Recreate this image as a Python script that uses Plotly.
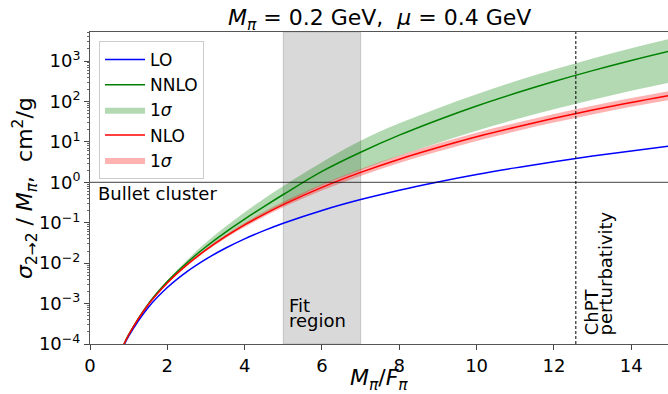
import numpy as np
import plotly.graph_objects as go

# ---- data ----
x_ratio = [0.85, 1.0, 1.5, 2.0, 2.5, 3.0, 3.5, 4.0, 4.5, 5.0, 6.0, 7.0, 8.0, 9.0, 10.0, 11.0, 12.0, 13.0, 14.0, 15.0]

lo = [8.1e-5, 1.56e-4, 7.9e-4, 2.5e-3, 6.1e-3, 0.0126, 0.0234, 0.040, 0.064, 0.0975,
      0.202, 0.375, 0.64, 1.02, 1.56, 2.28, 3.23, 4.46, 6.0, 7.9]

nlo = [8.5e-5, 1.68e-4, 9.2e-4, 3.25e-3, 8.97e-3, 0.0212, 0.0451, 0.0884, 0.162, 0.282,
       0.751, 1.76, 3.74, 7.26, 13.4, 23.1, 38.4, 61.5, 94.9, 142.0]
nlo_hi = [8.6e-5, 1.71e-4, 9.4e-4, 3.38e-3, 9.5e-3, 0.0229, 0.0496, 0.0999, 0.186, 0.330,
          0.901, 2.15, 4.64, 9.08, 16.9, 29.3, 48.8, 78.7, 121.5, 183.0]
nlo_lo = [8.4e-5, 1.65e-4, 9.0e-4, 3.13e-3, 8.46e-3, 0.0196, 0.0410, 0.0782, 0.141, 0.241,
          0.626, 1.44, 3.02, 5.81, 10.6, 18.2, 30.2, 48.0, 74.1, 110.0]

nnlo = [8.6e-5, 1.70e-4, 9.57e-4, 3.5e-3, 0.0101, 0.0255, 0.058, 0.123, 0.251, 0.50,
        1.87, 5.57, 14.7, 35.0, 77.7, 160.0, 313.0, 582.0, 1035.0, 1770.0]
nnlo_hi = [8.7e-5, 1.74e-4, 9.86e-4, 3.78e-3, 0.0117, 0.0324, 0.0794, 0.182, 0.394, 0.813,
           3.16, 10.7, 28.8, 68.4, 151.0, 316.0, 617.0, 1161.0, 2089.0, 3573.0]
nnlo_lo = [8.5e-5, 1.66e-4, 9.19e-4, 3.26e-3, 8.9e-3, 0.0209, 0.0441, 0.0888, 0.162, 0.286,
           0.860, 2.01, 4.56, 9.45, 19.0, 36.0, 64.2, 110.6, 184.2, 293.8]

fit_region = [5.0, 7.0]
chpt_limit = 4 * np.pi
bullet_cluster = 1.0

ytick_vals = [1e-4, 1e-3, 1e-2, 1e-1, 1e0, 1e1, 1e2, 1e3]
ytick_text = ["10<sup>\u22124</sup>", "10<sup>\u22123</sup>", "10<sup>\u22122</sup>", "10<sup>\u22121</sup>",
              "10<sup>0</sup>", "10<sup>1</sup>", "10<sup>2</sup>", "10<sup>3</sup>"]
xtick_vals = [0, 2, 4, 6, 8, 10, 12, 14]

FONT = "DejaVu Sans"

fig = go.Figure()

fig.add_trace(go.Scatter(x=x_ratio, y=lo, mode="lines", name="LO", legendgroup="a",
                         line=dict(color="rgb(0,0,255)", width=1.5, shape="spline")))
fig.add_trace(go.Scatter(x=x_ratio, y=nnlo, mode="lines", name="NNLO", legendgroup="b",
                         line=dict(color="rgb(0,128,0)", width=1.5, shape="spline")))
fig.add_trace(go.Scatter(x=x_ratio, y=nnlo_lo, mode="lines", showlegend=False, legendgroup="c",
                         line=dict(color="rgba(0,128,0,0)", width=0, shape="spline"), hoverinfo="skip"))
fig.add_trace(go.Scatter(x=x_ratio, y=nnlo_hi, mode="lines", name="1<i>σ</i>", legendgroup="c",
                         fill="tonexty", fillcolor="rgba(0,128,0,0.3)",
                         line=dict(color="rgba(0,128,0,0)", width=0, shape="spline")))
fig.add_trace(go.Scatter(x=x_ratio, y=nlo, mode="lines", name="NLO", legendgroup="d",
                         line=dict(color="rgb(255,0,0)", width=1.5, shape="spline")))
fig.add_trace(go.Scatter(x=x_ratio, y=nlo_lo, mode="lines", showlegend=False, legendgroup="e",
                         line=dict(color="rgba(255,0,0,0)", width=0, shape="spline"), hoverinfo="skip"))
fig.add_trace(go.Scatter(x=x_ratio, y=nlo_hi, mode="lines", name="1<i>σ</i>", legendgroup="e",
                         fill="tonexty", fillcolor="rgba(255,0,0,0.3)",
                         line=dict(color="rgba(255,0,0,0)", width=0, shape="spline")))

# fit region band
fig.add_shape(type="rect", xref="x", yref="paper", x0=fit_region[0], x1=fit_region[1], y0=0, y1=1,
              fillcolor="rgba(128,128,128,0.3)", line=dict(color="rgba(128,128,128,0.35)", width=1),
              layer="below")
# bullet cluster line
fig.add_shape(type="line", xref="paper", yref="y", x0=0, x1=1, y0=bullet_cluster, y1=bullet_cluster,
              line=dict(color="rgba(0,0,0,0.6)", width=1.2))
# perturbativity line
fig.add_shape(type="line", xref="x", yref="paper", x0=chpt_limit, x1=chpt_limit, y0=0, y1=1,
              line=dict(color="black", width=1, dash="3px,2px"))

ann_font = dict(family=FONT, size=18, color="black")
annotations = [
    dict(text="Bullet cluster", x=0.15, y=-0.27, xref="x", yref="y", xanchor="left", yanchor="middle",
         showarrow=False, font=ann_font),
    dict(text="Fit", x=5.1, y=-3.056, xref="x", yref="y", xanchor="left", yanchor="middle",
         showarrow=False, font=ann_font),
    dict(text="region", x=5.1, y=-3.419, xref="x", yref="y", xanchor="left", yanchor="middle",
         showarrow=False, font=ann_font),
    dict(text="ChPT", x=12.98, y=-3.827, xref="x", yref="y", xanchor="center", yanchor="bottom",
         textangle=-90, showarrow=False, font=ann_font),
    dict(text="perturbativity", x=13.33, y=-3.827, xref="x", yref="y", xanchor="center", yanchor="bottom",
         textangle=-90, showarrow=False, font=ann_font),
    # title
    dict(text="<i>M<sub>π</sub></i> = 0.2 GeV,&nbsp; <i>μ</i> = 0.4 GeV", x=0.5, y=(344 - 20) / 312,
         xref="paper", yref="paper", xanchor="center", yanchor="middle", showarrow=False,
         font=dict(family=FONT, size=22, color="black")),
    # x label
    dict(text="<i>M<sub>π</sub></i>/<i>F<sub>π</sub></i>", x=0.5, y=(344 - 379) / 312,
         xref="paper", yref="paper", xanchor="center", yanchor="middle", showarrow=False,
         font=dict(family=FONT, size=22, color="black")),
    # y label
    dict(text="<i>σ</i><sub>2→2</sub> / <i>M<sub>π</sub></i>,&nbsp; cm<sup>2</sup>/g", x=(25 - 90) / 578,
         y=0.5, xref="paper", yref="paper", xanchor="center", yanchor="middle", textangle=-90,
         showarrow=False, font=dict(family=FONT, size=22, color="black")),
]

fig.update_layout(
    width=668, height=394,
    margin=dict(l=90, r=0, t=32, b=50),
    paper_bgcolor="white", plot_bgcolor="white",
    font=dict(family=FONT, size=18, color="black"),
    showlegend=True,
    legend=dict(x=0.0156, y=0.971, xanchor="left", yanchor="top",
                bgcolor="rgba(255,255,255,0.8)", bordercolor="#cccccc", borderwidth=1,
                font=dict(family=FONT, size=17, color="black"),
                tracegroupgap=4, itemwidth=40, traceorder="normal"),
    annotations=annotations,
)

fig.update_xaxes(range=[0, 14.95], tickvals=xtick_vals, ticks="outside", ticklen=5, tickwidth=1,
                 tickcolor="#444", showline=True, linecolor="#555", linewidth=1, mirror=True,
                 showgrid=False, zeroline=False, tickfont=dict(family=FONT, size=18, color="black"))
fig.update_yaxes(type="log", range=[-4, 3.72], tickvals=ytick_vals, ticktext=ytick_text,
                 ticks="outside", ticklen=5, tickwidth=1, tickcolor="#444",
                 showline=True, linecolor="#555", linewidth=1, mirror=False,
                 showgrid=False, zeroline=False, tickfont=dict(family=FONT, size=18, color="black"),
                 minor=dict(ticks="outside", ticklen=2.5, tickcolor="#666", dtick="D1", showgrid=False))

fig.write_html("out.html")
